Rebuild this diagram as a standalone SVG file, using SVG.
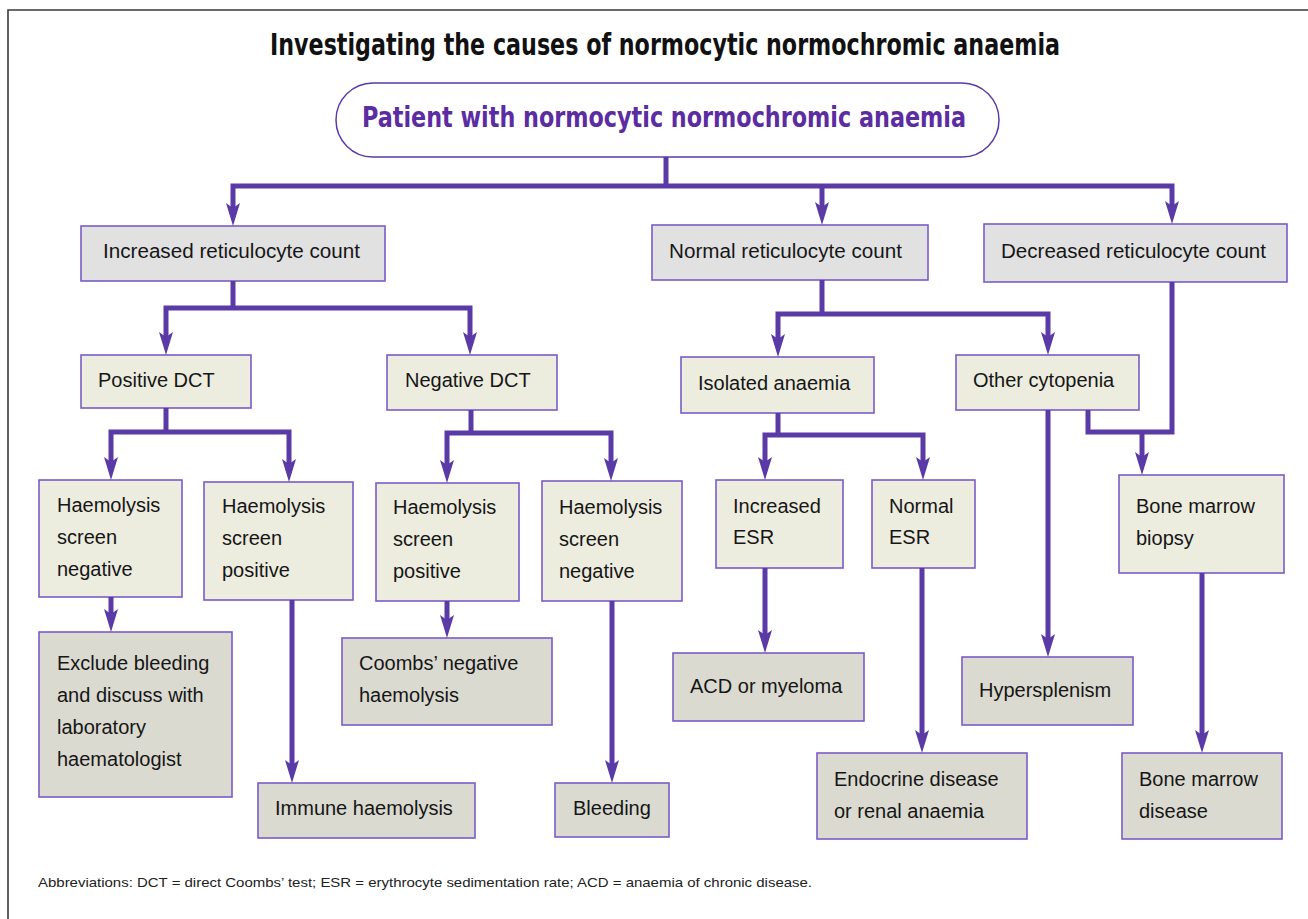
<svg xmlns="http://www.w3.org/2000/svg" xmlns:xlink="http://www.w3.org/1999/xlink" width="1308" height="919" viewBox="0 0 1308 919">
<style>
.frame{stroke:#3a3a3a;stroke-width:1.6;fill:none}
.title{font-family:"Liberation Sans Narrow","DejaVu Sans Condensed","Liberation Sans",sans-serif;font-weight:bold;font-size:30px;fill:#111}
.root-t{font-family:"Liberation Sans Narrow","DejaVu Sans Condensed","Liberation Sans",sans-serif;font-weight:bold;font-size:28px;fill:#5b2ca2}
.root{fill:#fff;stroke:#5b3aa8;stroke-width:1.5}
.b{stroke:#7b5cc6;stroke-width:1.6}
.l1{fill:#e1e1e1}
.l2{fill:#ececdf}
.lf{fill:#dadad0}
.t{font-family:"Liberation Sans",Arial,sans-serif;font-size:20px;fill:#161616}
.foot{font-family:"Liberation Sans",Arial,sans-serif;font-size:13px;fill:#222}
.c{fill:none;stroke:#5a3aa6;stroke-width:5;stroke-linejoin:miter}
.ah{fill:#5a3aa6}
</style>
<defs>
<path id="ah" d="M0,0 L-7,-23 L0,-18 L7,-23 Z"/>
</defs>
<rect x="0" y="0" width="1308" height="919" fill="#fff"/>
<path class="frame" d="M8,919 V10 H1308"/>
<text class="title" x="270" y="55" textLength="790" lengthAdjust="spacingAndGlyphs">Investigating the causes of normocytic normochromic anaemia</text>

<g id="n-root"><rect class="root" x="336" y="83" width="663" height="74" rx="37"/><text class="root-t" x="362" y="127" textLength="604" lengthAdjust="spacingAndGlyphs">Patient with normocytic normochromic anaemia</text></g>

<g id="n-inc"><rect class="b l1" x="81" y="226" width="304" height="55"/><text class="t" x="103" y="258" textLength="257" lengthAdjust="spacingAndGlyphs">Increased reticulocyte count</text></g>
<g id="n-norm"><rect class="b l1" x="652" y="225" width="276" height="55"/><text class="t" x="669" y="258" textLength="233" lengthAdjust="spacingAndGlyphs">Normal reticulocyte count</text></g>
<g id="n-dec"><rect class="b l1" x="984" y="224" width="303" height="58"/><text class="t" x="1001" y="258" textLength="265" lengthAdjust="spacingAndGlyphs">Decreased reticulocyte count</text></g>

<g id="n-pos"><rect class="b l2" x="81" y="355" width="170" height="53"/><text class="t" x="98" y="387">Positive DCT</text></g>
<g id="n-neg"><rect class="b l2" x="387" y="355" width="170" height="55"/><text class="t" x="405" y="387">Negative DCT</text></g>
<g id="n-iso"><rect class="b l2" x="681" y="357" width="193" height="56"/><text class="t" x="698" y="390">Isolated anaemia</text></g>
<g id="n-oth"><rect class="b l2" x="956" y="355" width="183" height="55"/><text class="t" x="973" y="387">Other cytopenia</text></g>

<g id="n-hsn1"><rect class="b l2" x="39" y="480" width="143" height="117"/><text class="t" x="57" y="512">Haemolysis</text><text class="t" x="57" y="544">screen</text><text class="t" x="57" y="576">negative</text></g>
<g id="n-hsp1"><rect class="b l2" x="204" y="482" width="149" height="118"/><text class="t" x="222" y="513">Haemolysis</text><text class="t" x="222" y="545">screen</text><text class="t" x="222" y="577">positive</text></g>
<g id="n-hsp2"><rect class="b l2" x="376" y="483" width="143" height="118"/><text class="t" x="393" y="514">Haemolysis</text><text class="t" x="393" y="546">screen</text><text class="t" x="393" y="578">positive</text></g>
<g id="n-hsn2"><rect class="b l2" x="542" y="481" width="140" height="120"/><text class="t" x="559" y="514">Haemolysis</text><text class="t" x="559" y="546">screen</text><text class="t" x="559" y="578">negative</text></g>
<g id="n-iesr"><rect class="b l2" x="716" y="480" width="127" height="88"/><text class="t" x="733" y="513">Increased</text><text class="t" x="733" y="544">ESR</text></g>
<g id="n-nesr"><rect class="b l2" x="872" y="480" width="103" height="88"/><text class="t" x="889" y="513">Normal</text><text class="t" x="889" y="544">ESR</text></g>
<g id="n-bmb"><rect class="b l2" x="1119" y="475" width="165" height="98"/><text class="t" x="1136" y="513">Bone marrow</text><text class="t" x="1136" y="545">biopsy</text></g>

<g id="n-excl"><rect class="b lf" x="39" y="632" width="193" height="165"/><text class="t" x="57" y="670">Exclude bleeding</text><text class="t" x="57" y="702">and discuss with</text><text class="t" x="57" y="734">laboratory</text><text class="t" x="57" y="766">haematologist</text></g>
<g id="n-coombs"><rect class="b lf" x="342" y="638" width="210" height="87"/><text class="t" x="359" y="670">Coombs’ negative</text><text class="t" x="359" y="702">haemolysis</text></g>
<g id="n-acd"><rect class="b lf" x="673" y="653" width="191" height="68"/><text class="t" x="690" y="693">ACD or myeloma</text></g>
<g id="n-hyp"><rect class="b lf" x="962" y="657" width="171" height="68"/><text class="t" x="979" y="697">Hypersplenism</text></g>
<g id="n-immune"><rect class="b lf" x="258" y="783" width="217" height="55"/><text class="t" x="275" y="815">Immune haemolysis</text></g>
<g id="n-bleed"><rect class="b lf" x="555" y="783" width="114" height="54"/><text class="t" x="573" y="815">Bleeding</text></g>
<g id="n-endo"><rect class="b lf" x="817" y="753" width="210" height="86"/><text class="t" x="834" y="786">Endocrine disease</text><text class="t" x="834" y="818">or renal anaemia</text></g>
<g id="n-bmd"><rect class="b lf" x="1122" y="753" width="160" height="86"/><text class="t" x="1139" y="786">Bone marrow</text><text class="t" x="1139" y="818">disease</text></g>

<g id="connectors">
<path class="c" d="M666,157 V186"/>
<path class="c" d="M233,211 V186 H1172 V209"/>
<path class="c" d="M822,186 V210"/>
<path class="c" d="M233,281 V308"/>
<path class="c" d="M166,340 V308 H470 V340"/>
<path class="c" d="M166,408 V432"/>
<path class="c" d="M111,465 V432 H289 V467"/>
<path class="c" d="M471,410 V433"/>
<path class="c" d="M447,468 V433 H611 V466"/>
<path class="c" d="M111,597 V617"/>
<path class="c" d="M292,600 V768"/>
<path class="c" d="M447,601 V623"/>
<path class="c" d="M612,601 V768"/>
<path class="c" d="M822,280 V314"/>
<path class="c" d="M778,342 V314 H1048 V340"/>
<path class="c" d="M778,413 V435"/>
<path class="c" d="M765,465 V435 H923 V465"/>
<path class="c" d="M765,568 V638"/>
<path class="c" d="M922,568 V738"/>
<path class="c" d="M1048,410 V642"/>
<path class="c" d="M1088,410 V432 H1172 V282"/>
<path class="c" d="M1142,432 V460"/>
<path class="c" d="M1202,573 V738"/>
<g class="ah">
<use xlink:href="#ah" x="233" y="226"/>
<use xlink:href="#ah" x="822" y="225"/>
<use xlink:href="#ah" x="1172" y="224"/>
<use xlink:href="#ah" x="166" y="355"/>
<use xlink:href="#ah" x="470" y="355"/>
<use xlink:href="#ah" x="111" y="480"/>
<use xlink:href="#ah" x="289" y="482"/>
<use xlink:href="#ah" x="447" y="483"/>
<use xlink:href="#ah" x="611" y="481"/>
<use xlink:href="#ah" x="111" y="632"/>
<use xlink:href="#ah" x="292" y="783"/>
<use xlink:href="#ah" x="447" y="638"/>
<use xlink:href="#ah" x="612" y="783"/>
<use xlink:href="#ah" x="778" y="357"/>
<use xlink:href="#ah" x="1048" y="355"/>
<use xlink:href="#ah" x="765" y="480"/>
<use xlink:href="#ah" x="923" y="480"/>
<use xlink:href="#ah" x="765" y="653"/>
<use xlink:href="#ah" x="922" y="753"/>
<use xlink:href="#ah" x="1048" y="657"/>
<use xlink:href="#ah" x="1142" y="475"/>
<use xlink:href="#ah" x="1202" y="753"/>
</g>
</g>

<text class="foot" x="38" y="887" textLength="774" lengthAdjust="spacingAndGlyphs">Abbreviations: DCT = direct Coombs’ test; ESR = erythrocyte sedimentation rate; ACD = anaemia of chronic disease.</text>
</svg>
